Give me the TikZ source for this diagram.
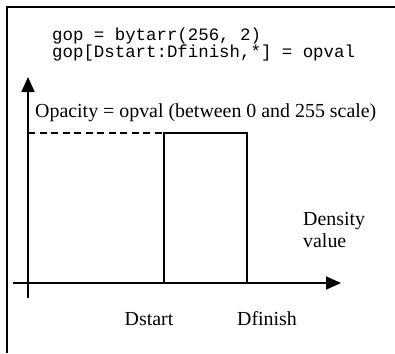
\documentclass[tikz,border=0pt]{standalone}
\usepackage{fontspec}
\setmainfont{Liberation Serif}
\setmonofont{Liberation Mono}
\usetikzlibrary{arrows.meta,positioning}

\begin{document}
\begin{tikzpicture}[x=1pt, y=-1pt, >={Triangle[length=15pt,width=13pt]},
    line/.style={line width=1.7pt},
    lbl/.style={font=\fontsize{19.9}{22}\selectfont, inner sep=0pt},
    code/.style={font=\ttfamily\fontsize{17.4}{16}\selectfont, inner sep=0pt}]
    \useasboundingbox (0,0) rectangle (395,353);
    % frame
    \draw [line] (7,353) |- (395,7);
    % program text
    \node [code, anchor=base west] (code1) at (52,40.5) {gop = bytarr(256, 2)};
    \node [code, anchor=base west] (code2) at (52,57) {gop[Dstart:Dfinish,*] = opval};
    % axes
    \coordinate (ybot) at (28,298);
    \coordinate (ytop) at (28,77);
    \coordinate (xleft) at (13,283);
    \coordinate (xright) at (341,283);
    \draw [line, ->] (ybot) -- (ytop);
    \draw [line, ->] (xleft) -- (xright);
    % opacity window
    \coordinate (ds) at (164,283);
    \coordinate (df) at (247,283);
    \coordinate (top) at (164,133);
    \draw [line, dash pattern=on 7pt off 4.5pt] (28,133) -- (top);
    \draw [line] (ds) -- (top) -| (df);
    % labels
    \node [lbl, anchor=base west] (opacity) at (35,117) {Opacity = opval (between 0 and 255 scale)};
    \node [lbl, anchor=base west] (density) at (303,225) {Density};
    \node [lbl, anchor=base west] (value) at (303,247) {value};
    \node [lbl, anchor=base] (dstart) at (149,325) {Dstart};
    \node [lbl, anchor=base] (dfinish) at (267,325) {Dfinish};
\end{tikzpicture}
\end{document}
